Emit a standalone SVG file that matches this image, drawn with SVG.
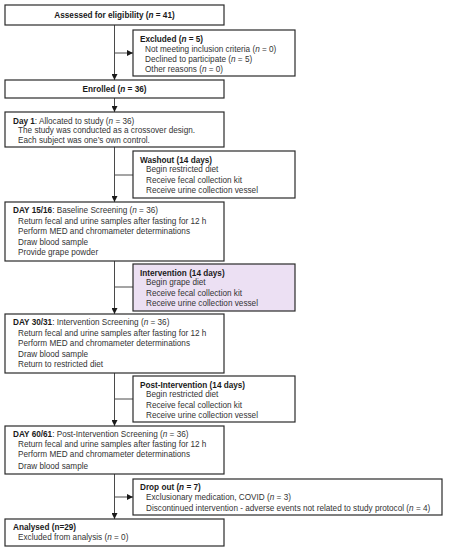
<svg xmlns="http://www.w3.org/2000/svg" width="449" height="550" viewBox="0 0 449 550">
<style>
.box{fill:#fff;stroke:#2a2a2a;stroke-width:1.2}
.purple{fill:#ece0f3}
.t{font-family:"Liberation Sans",Arial,sans-serif;font-size:8.2px;fill:#333}
.b{font-weight:bold;fill:#1a1a1a}
.c{stroke:#4a4a4a;stroke-width:1;fill:none}
</style>
<defs>
<marker id="ah" viewBox="0 0 6 6" refX="6" refY="3" markerWidth="6" markerHeight="6" markerUnits="userSpaceOnUse" orient="auto">
<path d="M0,0 L6,3 L0,6 Z" fill="#1a1a1a"/>
</marker>
</defs>
<g id="connectors">
<line class="c" x1="114.5" y1="25" x2="114.5" y2="80" marker-end="url(#ah)"/>
<line class="c" x1="114.5" y1="53" x2="133" y2="53" marker-end="url(#ah)"/>
<line class="c" x1="114.5" y1="98" x2="114.5" y2="112" marker-end="url(#ah)"/>
<line class="c" x1="114.5" y1="147" x2="114.5" y2="202" marker-end="url(#ah)"/>
<line class="c" x1="133" y1="175" x2="114.5" y2="175"/>
<line class="c" x1="114.5" y1="261" x2="114.5" y2="314" marker-end="url(#ah)"/>
<line class="c" x1="133" y1="287" x2="114.5" y2="287"/>
<line class="c" x1="114.5" y1="373" x2="114.5" y2="426" marker-end="url(#ah)"/>
<line class="c" x1="133" y1="399" x2="114.5" y2="399"/>
<line class="c" x1="114.5" y1="474" x2="114.5" y2="519" marker-end="url(#ah)"/>
<line class="c" x1="114.5" y1="497" x2="133" y2="497" marker-end="url(#ah)"/>
</g>
<g id="assessed">
<rect class="box" x="5" y="5" width="219" height="20"/>
<text class="t b" x="114.5" y="18" text-anchor="middle">Assessed for eligibility (<tspan font-style="italic">n</tspan> = 41)</text>
</g>
<g id="excluded">
<rect class="box" x="133" y="30" width="162" height="46"/>
<text class="t b" x="140" y="42">Excluded (<tspan font-style="italic">n</tspan> = 5)</text>
<text class="t" x="145" y="52">Not meeting inclusion criteria (<tspan font-style="italic">n</tspan> = 0)</text>
<text class="t" x="145" y="61.5">Declined to participate (<tspan font-style="italic">n</tspan> = 5)</text>
<text class="t" x="145" y="71.5">Other reasons (<tspan font-style="italic">n</tspan> = 0)</text>
</g>
<g id="enrolled">
<rect class="box" x="5" y="80" width="219" height="18"/>
<text class="t b" x="114.5" y="92" text-anchor="middle">Enrolled (<tspan font-style="italic">n</tspan> = 36)</text>
</g>
<g id="day1">
<rect class="box" x="5" y="112" width="219" height="35"/>
<text class="t" x="13" y="123.5"><tspan class="b">Day 1</tspan>: Allocated to study (<tspan font-style="italic">n</tspan> = 36)</text>
<text class="t" x="18" y="133">The study was conducted as a crossover design.</text>
<text class="t" x="18" y="143">Each subject was one’s own control.</text>
</g>
<g id="washout">
<rect class="box" x="133" y="151" width="162" height="47"/>
<text class="t b" x="140" y="163">Washout (14 days)</text>
<text class="t" x="146" y="172">Begin restricted diet</text>
<text class="t" x="146" y="183">Receive fecal collection kit</text>
<text class="t" x="146" y="193">Receive urine collection vessel</text>
</g>
<g id="day15">
<rect class="box" x="5" y="202" width="219" height="59"/>
<text class="t" x="13" y="213"><tspan class="b">DAY 15/16</tspan>: Baseline Screening (<tspan font-style="italic">n</tspan> = 36)</text>
<text class="t" x="18" y="224">Return fecal and urine samples after fasting for 12 h</text>
<text class="t" x="18" y="234">Perform MED and chromameter determinations</text>
<text class="t" x="18" y="245">Draw blood sample</text>
<text class="t" x="18" y="255">Provide grape powder</text>
</g>
<g id="intervention">
<rect class="box purple" x="133" y="264" width="162" height="47"/>
<text class="t b" x="140" y="276">Intervention (14 days)</text>
<text class="t" x="146" y="285">Begin grape diet</text>
<text class="t" x="146" y="296">Receive fecal collection kit</text>
<text class="t" x="146" y="306">Receive urine collection vessel</text>
</g>
<g id="day30">
<rect class="box" x="5" y="314" width="219" height="59"/>
<text class="t" x="13" y="325"><tspan class="b">DAY 30/31</tspan>: Intervention Screening (<tspan font-style="italic">n</tspan> = 36)</text>
<text class="t" x="18" y="336">Return fecal and urine samples after fasting for 12 h</text>
<text class="t" x="18" y="346">Perform MED and chromameter determinations</text>
<text class="t" x="18" y="357">Draw blood sample</text>
<text class="t" x="18" y="367">Return to restricted diet</text>
</g>
<g id="postintervention">
<rect class="box" x="133" y="376" width="162" height="46"/>
<text class="t b" x="140" y="388">Post-Intervention (14 days)</text>
<text class="t" x="146" y="397">Begin restricted diet</text>
<text class="t" x="146" y="408">Receive fecal collection kit</text>
<text class="t" x="146" y="418">Receive urine collection vessel</text>
</g>
<g id="day60">
<rect class="box" x="5" y="426" width="219" height="48"/>
<text class="t" x="13" y="437"><tspan class="b">DAY 60/61</tspan>: Post-Intervention Screening (<tspan font-style="italic">n</tspan> = 36)</text>
<text class="t" x="18" y="447">Return fecal and urine samples after fasting for 12 h</text>
<text class="t" x="18" y="457">Perform MED and chromameter determinations</text>
<text class="t" x="18" y="469">Draw blood sample</text>
</g>
<g id="dropout">
<rect class="box" x="133" y="479" width="309" height="36"/>
<text class="t b" x="140" y="490">Drop out (<tspan font-style="italic">n</tspan> = 7)</text>
<text class="t" x="146" y="500">Exclusionary medication, COVID (<tspan font-style="italic">n</tspan> = 3)</text>
<text class="t" x="146" y="511">Discontinued intervention - adverse events not related to study protocol (<tspan font-style="italic">n</tspan> = 4)</text>
</g>
<g id="analysed">
<rect class="box" x="5" y="519" width="219" height="27"/>
<text class="t b" x="13" y="530">Analysed (n=29)</text>
<text class="t" x="18" y="540">Excluded from analysis (<tspan font-style="italic">n</tspan> = 0)</text>
</g>
</svg>
